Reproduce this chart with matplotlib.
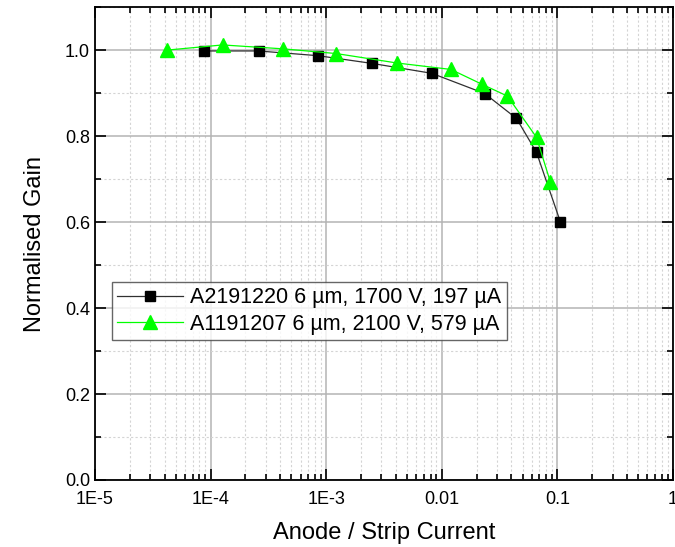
import numpy as np
import matplotlib
matplotlib.use("Agg")
import matplotlib.pyplot as plt
from matplotlib.ticker import FixedLocator, FixedFormatter, LogLocator, MultipleLocator

plt.rcParams['font.family'] = ['Liberation Sans', 'DejaVu Sans']

# A2191220 (black squares)
x_a = [8.7e-5, 2.6e-4, 8.5e-4, 2.5e-3, 8.2e-3, 0.0235, 0.0443, 0.066, 0.106]
y_a = [0.998, 0.998, 0.987, 0.969, 0.946, 0.899, 0.841, 0.762, 0.601]

# A1191207 (green triangles)
x_b = [4.2e-5, 1.27e-4, 4.2e-4, 1.22e-3, 4.1e-3, 0.012, 0.0225, 0.037, 0.066, 0.087]
y_b = [1.000, 1.012, 1.003, 0.992, 0.970, 0.955, 0.920, 0.893, 0.797, 0.693]

label_a = "A2191220 6 µm, 1700 V, 197 µA"
label_b = "A1191207 6 µm, 2100 V, 579 µA"

xticks = [1e-5, 1e-4, 1e-3, 1e-2, 1e-1, 1]
xtick_labels = ["1E-5", "1E-4", "1E-3", "0.01", "0.1", "1"]

fig = plt.figure(figsize=(6.75, 5.47), dpi=100)
ax = fig.add_axes([0.1407, 0.1225, 0.8563, 0.8645])

ax.plot(x_a, y_a, color='#303030', lw=0.9, marker='s', ms=7.5,
        mfc='black', mec='black', label=label_a, zorder=3)
ax.plot(x_b, y_b, color='#00ff00', lw=0.9, marker='^', ms=9.5,
        mfc='#00ff00', mec='#00ff00', label=label_b, zorder=3)

ax.set_xscale('log')
ax.set_xlim(1e-5, 1)
ax.set_ylim(0, 1.1)

ax.xaxis.set_major_locator(FixedLocator(xticks))
ax.xaxis.set_major_formatter(FixedFormatter(xtick_labels))
ax.xaxis.set_minor_locator(LogLocator(base=10, subs=np.arange(2, 10)))
ax.xaxis.set_minor_formatter(FixedFormatter([]))
ax.yaxis.set_major_locator(MultipleLocator(0.2))
ax.yaxis.set_minor_locator(MultipleLocator(0.1))
ax.yaxis.set_major_formatter(plt.FuncFormatter(lambda v, p: f"{v:.1f}"))

ax.tick_params(which='both', direction='in', top=True, right=True, labelsize=13, width=1.2)
ax.tick_params(which='major', length=8)
ax.tick_params(which='minor', length=4)
ax.tick_params(axis='x', which='major', pad=8)

ax.grid(True, which='major', color='#b4b4b4', lw=1.1, ls='-')
ax.grid(True, which='minor', color='#d4d4d4', lw=0.8, ls=(0, (2, 2)))
ax.set_axisbelow(True)

for s in ax.spines.values():
    s.set_linewidth(1.3)

ax.set_xlabel("Anode / Strip Current", fontsize=17, labelpad=10)
ax.set_ylabel("Normalised Gain", fontsize=17, labelpad=14)

leg = ax.legend(loc='upper left', bbox_to_anchor=(0.029, 0.4186), fontsize=15.5,
                frameon=True, fancybox=False, edgecolor='#404040',
                handlelength=3.05, borderpad=0.25, labelspacing=0.25,
                handletextpad=0.35, borderaxespad=0)
leg.get_frame().set_linewidth(1.0)

fig.savefig("out.png", dpi=100)
